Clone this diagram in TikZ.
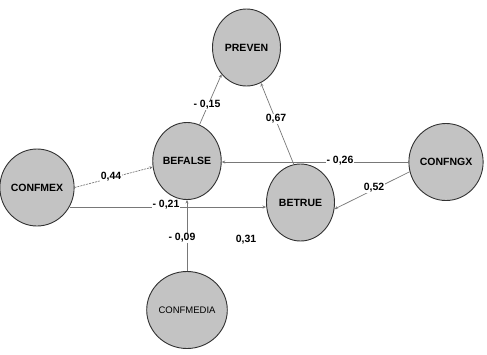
\documentclass[tikz,border=0pt]{standalone}
\usepackage{fontspec}
\setmainfont{Liberation Sans}
\usetikzlibrary{arrows.meta,shapes.geometric}
\definecolor{nodefill}{RGB}{195,195,195}
\definecolor{nodeline}{RGB}{50,50,50}
\definecolor{edgecol}{RGB}{120,120,120}
\begin{document}
\begin{tikzpicture}[x=1pt,y=-1pt,
  var/.style={ellipse,draw=nodeline,fill=nodefill,line width=0.9pt,minimum width=68pt,minimum height=77pt,inner sep=0pt,font=\fontsize{10.5}{12}\selectfont\bfseries},
  edge/.style={draw=edgecol,line width=0.7pt,-{Stealth[length=3.5pt,width=3pt]}},
  coef/.style={fill=white,inner sep=1pt,font=\fontsize{10.5}{12}\selectfont\bfseries}]
\useasboundingbox (0,0) rectangle (487,354);
\node[var] (preven) at (246.5,47.5) {PREVEN};
\node[var] (befalse) at (187,161) {BEFALSE};
\node[var] (confmex) at (37,187.5) {CONFMEX};
\node[var] (betrue) at (300.5,202.5) {BETRUE};
\node[var] (confngx) at (446,162) {CONFNGX};
\node[var,font=\fontsize{9.5}{11}\selectfont] (confmedia) at (187,310) {CONFMEDIA};
% connectors
\draw[edge] (befalse.71) -- (preven.227);
\draw[edge] (betrue.100) -- (preven.-68);
\draw[edge] (confngx.west) -- (confngx.west -| befalse.east);
\draw[edge] (confngx.195) -- (betrue.-11);
\draw[edge,dash pattern=on 2pt off 1pt] (confmex.east) -- (befalse.190);
\draw[edge] (confmex.-31) -- (confmex.-31 -| betrue.west);
\draw[edge] (confmedia.north) -- (befalse.south);
% coefficients
\node[coef] (l15) at (207,105) {- 0,15};
\node[coef] (l67) at (276,119) {0,67};
\node[coef] (l26) at (340,161) {- 0,26};
\node[coef] (l52) at (374,188) {0,52};
\node[coef] (l44) at (111,177) {0,44};
\node[coef] (l21) at (166,205) {- 0,21};
\node[coef] (l09) at (182,238) {- 0,09};
\node[coef] (l31) at (246,240) {0,31};
\end{tikzpicture}
\end{document}
